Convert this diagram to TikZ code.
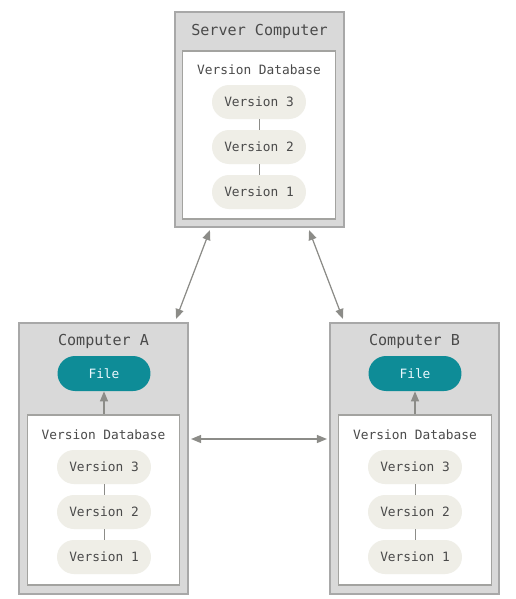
\documentclass[tikz,border=0pt]{standalone}
\usepackage{fontspec}
\setmonofont{DejaVu Sans Mono}
\usepackage{xcolor}
\usetikzlibrary{arrows.meta, positioning, calc}

\definecolor{boxgray}{HTML}{D9D9D9}
\definecolor{edgegray}{HTML}{A8A8A8}
\definecolor{linegray}{HTML}{8C8C88}
\definecolor{pillbeige}{HTML}{EFEEE7}
\definecolor{fileteal}{HTML}{0E8C97}
\definecolor{textgray}{HTML}{4A4A4A}

\begin{document}
\begin{tikzpicture}[
    x=0.02cm, y=-0.02cm,
    machine/.style={rectangle, draw=edgegray, fill=boxgray, line width=1.2pt, minimum width=3.38cm, inner sep=0pt},
    dbbox/.style={rectangle, draw=linegray!80, fill=white, line width=0.6pt, minimum width=3.05cm, inner sep=0pt},
    title/.style={font=\ttfamily\fontsize{8.6}{10}\selectfont, text=textgray},
    dblabel/.style={font=\ttfamily\fontsize{7.3}{9}\selectfont, text=textgray},
    version/.style={rectangle, fill=pillbeige, rounded corners=0.34cm, minimum width=1.88cm, minimum height=0.68cm, font=\ttfamily\fontsize{7.3}{9}\selectfont, text=textgray},
    filebox/.style={rectangle, fill=fileteal, rounded corners=0.35cm, minimum width=1.86cm, minimum height=0.7cm, font=\ttfamily\fontsize{7.3}{9}\selectfont, text=cyan!8},
    link/.style={draw=linegray, line width=0.5pt},
    arrow/.style={{Triangle[length=2mm, width=1.6mm]}-{Triangle[length=2mm, width=1.6mm]}, draw=linegray, fill=linegray, line width=0.7pt},
    uparrow/.style={-{Triangle[length=2mm, width=1.6mm]}, draw=linegray, fill=linegray, line width=0.7pt}
]
\useasboundingbox (0,0) rectangle (515,599);

% Server
\node[machine, minimum height=4.3cm] (server) at (259.5,119.5) {};
\node[title] (servertitle) at (259.5,31) {Server Computer};
\node[dbbox, minimum height=3.36cm] (serverdb) at (259,135) {};
\node[dblabel] (serverdblabel) at (259,70) {Version Database};
\node[version] (sv3) at (259,102) {Version 3};
\node[version] (sv2) at (259,147) {Version 2};
\node[version] (sv1) at (259,192) {Version 1};
\draw[link] (sv3) -- (sv2);
\draw[link] (sv2) -- (sv1);

% Computer A
\node[machine, minimum height=5.42cm] (compA) at (103.5,458.5) {};
\node[title] (compAtitle) at (103.5,341) {Computer A};
\node[filebox] (fileA) at (104,373.5) {File};
\node[dbbox, minimum height=3.4cm] (dbA) at (103.5,500) {};
\node[dblabel] (dbAlabel) at (103.5,435) {Version Database};
\node[version] (av3) at (104,467) {Version 3};
\node[version] (av2) at (104,512) {Version 2};
\node[version] (av1) at (104,557) {Version 1};
\draw[link] (av3) -- (av2);
\draw[link] (av2) -- (av1);
\draw[uparrow] (dbA.north -| fileA) -- (fileA);

% Computer B
\node[machine, minimum height=5.42cm] (compB) at (414.5,458.5) {};
\node[title] (compBtitle) at (414.5,341) {Computer B};
\node[filebox] (fileB) at (415,373.5) {File};
\node[dbbox, minimum height=3.4cm] (dbB) at (415,500) {};
\node[dblabel] (dbBlabel) at (415,435) {Version Database};
\node[version] (bv3) at (415,467) {Version 3};
\node[version] (bv2) at (415,512) {Version 2};
\node[version] (bv1) at (415,557) {Version 1};
\draw[link] (bv3) -- (bv2);
\draw[link] (bv2) -- (bv1);
\draw[uparrow] (dbB.north -| fileB) -- (fileB);

% Connections
\draw[arrow] ([xshift=0.72cm, yshift=-0.04cm]server.south west) -- ([xshift=-0.26cm, yshift=0.06cm]compA.north east);
\draw[arrow] ([xshift=-0.72cm, yshift=-0.04cm]server.south east) -- ([xshift=0.28cm, yshift=0.06cm]compB.north west);
\draw[arrow] ([xshift=0.04cm, yshift=-0.08cm]dbAlabel -| compA.east) -- ([xshift=-0.04cm, yshift=-0.08cm]dbBlabel -| compB.west);

\end{tikzpicture}
\end{document}
